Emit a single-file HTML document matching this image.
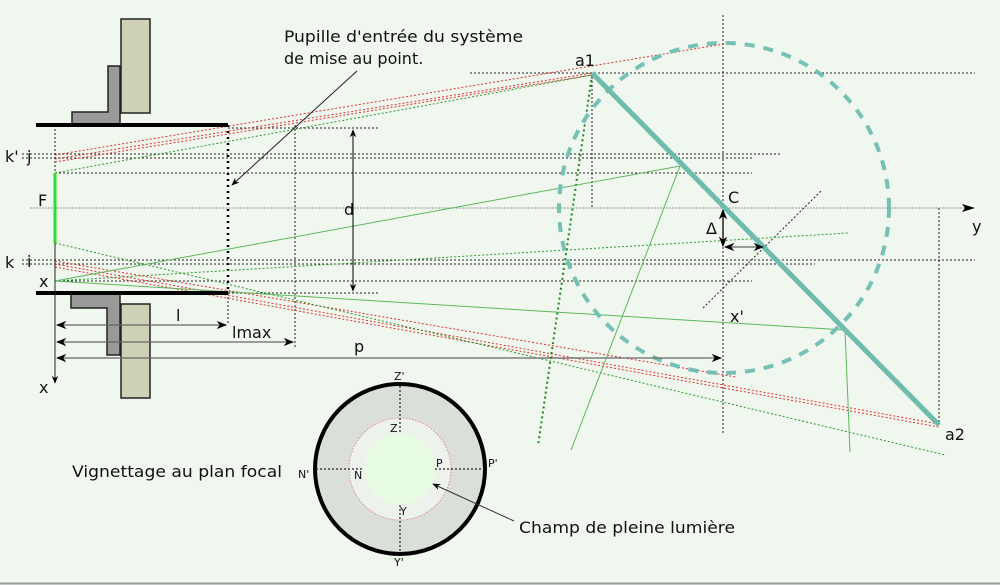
<!DOCTYPE html>
<html><head><meta charset="utf-8"><style>
html,body{margin:0;padding:0;background:#f0f7ef;}
svg{display:block;font-family:"DejaVu Sans","Liberation Sans",sans-serif;}
</style></head><body>
<svg width="1000" height="585" viewBox="0 0 1000 585" xmlns="http://www.w3.org/2000/svg">
<defs>
<marker id="ar" viewBox="0 0 10 10" refX="9" refY="5" markerWidth="8" markerHeight="8" orient="auto-start-reverse"><path d="M0,1 L10,5 L0,9 L3,5 z" fill="#000"/></marker>
</defs>
<rect width="1000" height="585" fill="#f0f7ef"/>
<line x1="0" y1="583.5" x2="1000" y2="583.5" stroke="#999" stroke-width="2"/>

<rect x="121" y="19" width="29" height="94" fill="#cfd1b6" stroke="#222" stroke-width="1.5"/>
<path d="M72,112 L108,112 L108,66 L120,66 L120,125 L72,125 Z" fill="#999" stroke="#222" stroke-width="1.5"/>
<path d="M71,294 L120,294 L120,355 L107,355 L107,308 L71,308 Z" fill="#999" stroke="#222" stroke-width="1.5"/>
<rect x="121" y="304" width="29" height="94" fill="#cfd1b6" stroke="#222" stroke-width="1.5"/>

<g stroke="#222" stroke-width="1" stroke-dasharray="2,2" fill="none">
<line x1="228" y1="128" x2="378" y2="128"/>
<line x1="22" y1="154" x2="780" y2="154"/>
<line x1="22" y1="158" x2="752" y2="158"/>
<line x1="55" y1="173" x2="752" y2="173"/>
<line x1="22" y1="260" x2="975" y2="260"/>
<line x1="22" y1="264" x2="815" y2="264"/>
<line x1="55" y1="281" x2="752" y2="281"/>
<line x1="228" y1="293" x2="378" y2="293"/>
<line x1="470" y1="73" x2="975" y2="73"/>
<line x1="723" y1="15" x2="723" y2="435"/>
<line x1="592" y1="73" x2="592" y2="208"/>
<line x1="939" y1="208" x2="939" y2="425"/>
<line x1="295" y1="125" x2="295" y2="348"/>
<line x1="228" y1="293" x2="228" y2="325"/>
<line x1="55" y1="125" x2="55" y2="173"/>
<line x1="703" y1="308" x2="822" y2="190"/>
</g>
<line x1="30" y1="208" x2="972" y2="208" stroke="#999" stroke-width="1" stroke-dasharray="2,1"/>
<path d="M962,204 L975,208 L962,212 L965,208 Z" fill="#000"/>
<line x1="228" y1="125" x2="228" y2="293" stroke="#000" stroke-width="2.5" stroke-dasharray="2,4"/>

<g stroke="#e03030" stroke-width="1" stroke-dasharray="2,2" fill="none">
<line x1="55" y1="155" x2="736" y2="42"/>
<line x1="55" y1="159" x2="592" y2="73"/>
<line x1="55" y1="162" x2="592" y2="75"/>
<line x1="55" y1="261" x2="736" y2="377"/>
<line x1="55" y1="264" x2="939" y2="424"/>
<line x1="55" y1="267" x2="939" y2="427"/>
</g>
<g stroke="#2a9a2a" stroke-width="1" stroke-dasharray="2,2" fill="none">
<line x1="55" y1="173" x2="592" y2="75"/>
<line x1="55" y1="243" x2="945" y2="455"/>
<line x1="55" y1="281" x2="848" y2="233"/>
</g>
<line x1="592" y1="75" x2="538" y2="446" stroke="#1a8a1a" stroke-width="2" stroke-dasharray="2,3"/>
<g stroke="#5cb85c" stroke-width="1" fill="none">
<polyline points="55,281 680,166 571,450"/>
<polyline points="55,281 845,330 850,452"/>
</g>

<circle cx="724" cy="208" r="165" fill="none" stroke="#76c1b5" stroke-width="4" stroke-dasharray="10,9"/>
<line x1="592" y1="73" x2="939" y2="425" stroke="#6fbcae" stroke-width="5"/>

<line x1="36" y1="125" x2="228" y2="125" stroke="#000" stroke-width="4"/>
<line x1="36" y1="293" x2="228" y2="293" stroke="#000" stroke-width="4"/>
<line x1="55" y1="173" x2="55" y2="243" stroke="#2de02d" stroke-width="3"/>
<line x1="55" y1="243" x2="55" y2="383" stroke="#222" stroke-width="1" marker-end="url(#ar)"/>

<line x1="353" y1="130" x2="353" y2="291" stroke="#000" stroke-width="1" marker-start="url(#ar)" marker-end="url(#ar)"/>
<g stroke="#666" stroke-width="1.3">
<line x1="57" y1="325" x2="226" y2="325" marker-start="url(#ar)" marker-end="url(#ar)"/>
<line x1="57" y1="342" x2="293" y2="342" marker-start="url(#ar)" marker-end="url(#ar)"/>
<line x1="57" y1="358" x2="721" y2="358" marker-start="url(#ar)" marker-end="url(#ar)"/>
<line x1="723" y1="210" x2="723" y2="246" stroke="#000" marker-start="url(#ar)" marker-end="url(#ar)"/>
<line x1="725" y1="247" x2="763" y2="247" marker-start="url(#ar)" marker-end="url(#ar)"/>
</g>
<line x1="357" y1="71" x2="232" y2="185" stroke="#222" stroke-width="1" marker-end="url(#ar)"/>

<g font-size="16" fill="#111">
<text x="284" y="42" textLength="239" lengthAdjust="spacingAndGlyphs">Pupille d'entrée du système</text>
<text x="284" y="64">de mise au point.</text>
<text x="5" y="162">k'</text><text x="27" y="162">j</text>
<text x="38" y="206">F</text>
<text x="5" y="268">k</text><text x="27" y="267">i</text>
<text x="39" y="287">x</text>
<text x="39" y="393">x</text>
<text x="344" y="215">d</text>
<text x="176" y="321">l</text>
<text x="232" y="338">lmax</text>
<text x="354" y="352">p</text>
<text x="575" y="66">a1</text>
<text x="728" y="203">C</text>
<text x="706" y="234">Δ</text>
<text x="972" y="232">y</text>
<text x="730" y="322">x'</text>
<text x="945" y="440">a2</text>
<text x="72" y="477" textLength="210" lengthAdjust="spacingAndGlyphs">Vignettage au plan focal</text>
<text x="519" y="533" textLength="216" lengthAdjust="spacingAndGlyphs">Champ de pleine lumière</text>
</g>

<circle cx="400" cy="469" r="85" fill="#dbdfda" stroke="#000" stroke-width="4"/>
<circle cx="400" cy="469" r="51" fill="#eef2ed" stroke="#e09090" stroke-width="1" stroke-dasharray="1.5,1.5"/>
<circle cx="400" cy="469" r="35.5" fill="#e8fbe3"/>
<g stroke="#222" stroke-dasharray="2,2" stroke-width="1.2">
<line x1="400" y1="386" x2="400" y2="434"/>
<line x1="400" y1="505" x2="400" y2="553"/>
<line x1="316" y1="469" x2="364" y2="469"/>
<line x1="435" y1="469" x2="484" y2="469"/>
</g>
<line x1="514" y1="521" x2="433" y2="484" stroke="#333" stroke-width="1" marker-end="url(#ar)"/>
<g font-size="11" fill="#111">
<text x="394" y="380">Z'</text>
<text x="390" y="432">Z</text>
<text x="298" y="478">N'</text>
<text x="354" y="479">N</text>
<text x="436" y="467">P</text>
<text x="488" y="467">P'</text>
<text x="400" y="515">Y</text>
<text x="394" y="566">Y'</text>
</g>
</svg>
</body></html>
